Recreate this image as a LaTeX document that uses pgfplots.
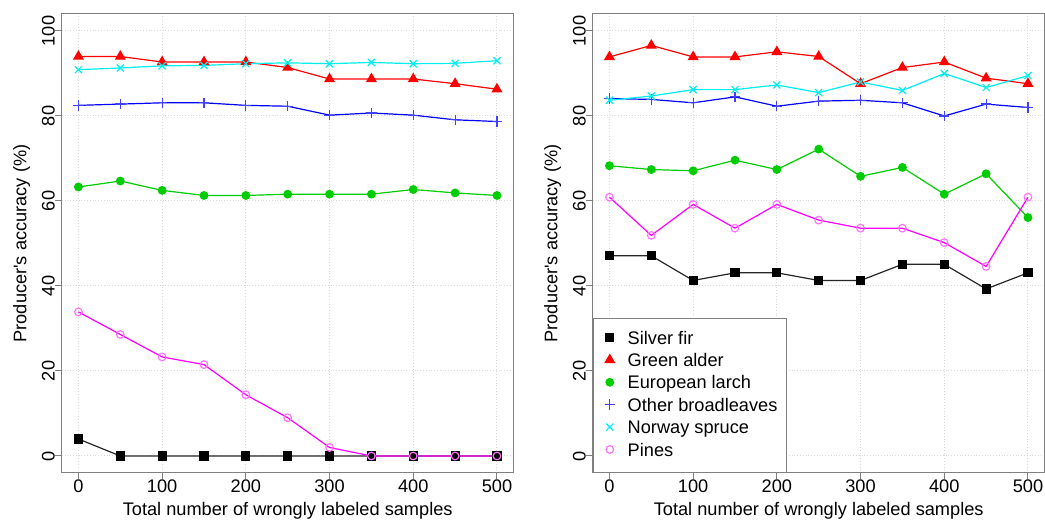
\documentclass[border=0pt]{standalone}
\usepackage{fontspec}
\setmainfont{Liberation Sans}
\usepackage{pgfplots}
\pgfplotsset{compat=1.18}
\definecolor{rgreen}{RGB}{0,205,0}
\definecolor{rcyan}{RGB}{0,238,238}
\definecolor{rmagenta}{RGB}{255,0,255}
\definecolor{rblue}{RGB}{0,0,255}
\definecolor{rred}{RGB}{255,0,0}
\definecolor{axgray}{RGB}{128,128,128}

\pgfplotstableread{
x sf ga el ob ns pi
0 4.0 94.0 63.3 82.5 90.9 33.9
50 0 94.0 64.7 82.8 91.3 28.6
100 0 92.7 62.5 83.1 91.8 23.3
150 0 92.7 61.3 83.1 91.9 21.5
200 0 92.7 61.3 82.5 92.3 14.4
250 0 91.4 61.6 82.3 92.5 9.0
300 0 88.7 61.6 80.2 92.3 2.0
350 0 88.7 61.6 80.7 92.6 0
400 0 88.7 62.7 80.2 92.3 0
450 0 87.6 61.9 79.1 92.4 0
500 0 86.3 61.3 78.7 93.0 0
}\lefttab

\pgfplotstableread{
x sf ga el ob ns pi
0 47.1 93.9 68.3 84.1 83.7 60.9
50 47.1 96.6 67.4 83.9 84.7 51.9
100 41.3 93.9 67.1 83.1 86.2 59.2
150 43.1 93.9 69.6 84.5 86.2 53.6
200 43.1 95.1 67.4 82.3 87.3 59.2
250 41.3 94.0 72.2 83.5 85.5 55.5
300 41.3 87.6 65.8 83.7 88.0 53.6
350 45.1 91.4 67.9 83.1 86.0 53.6
400 45.1 92.7 61.6 80.0 90.0 50.2
450 39.3 88.9 66.4 82.8 86.7 44.6
500 43.1 87.6 56.1 82.0 89.5 60.9
}\righttab

\pgfplotsset{
  myaxis/.style={
    scale only axis, width=226pt, height=229.5pt,
    xmin=-20, xmax=520, ymin=-4, ymax=104,
    axis line style={axgray, line width=0.5pt},
    tick style={axgray, line width=0.5pt},
    tick align=outside, major tick length=3.2pt,
    xtick pos=left, ytick pos=left,
    xtick={0,100,...,500}, ytick={0,20,...,100},
    grid=major, grid style={densely dotted, black!15, line width=0.5pt},
    font=\fontsize{9.1}{11}\selectfont,
    ticklabel style={font=\fontsize{9.1}{11}\selectfont, text=black},
    /pgf/number format/assume math mode=true,
    yticklabel style={rotate=90, anchor=south, inner sep=0pt},
    xticklabel style={anchor=north, inner sep=0pt},
    every axis x label/.style={at={([yshift=-14.5pt]axis description cs:0.5,0)}, anchor=north, inner sep=0pt},
    every axis y label/.style={at={([xshift=-24.5pt]axis description cs:0,0.5)}, rotate=90, anchor=north, inner sep=0pt},
    xlabel={Total number of wrongly labeled samples},
    ylabel={Producer\textquotesingle s accuracy (\%)},
    legend image code/.code={\path (-4.5pt,0pt) (7.65pt,0pt); \draw[##1, only marks] plot coordinates {(0pt,0.9pt)};},
  },
  sf/.style={black!85, line width=0.6pt, mark=square*, mark size=2pt, mark options={solid, fill=black, draw=black}},
  ga/.style={rred, line width=0.6pt, mark=triangle*, mark size=2.6pt, mark options={solid, fill=rred, draw=rred}},
  el/.style={rgreen, line width=0.6pt, mark=*, mark size=1.9pt, mark options={solid, fill=rgreen, draw=rgreen}},
  ob/.style={rblue, line width=0.6pt, mark=+, mark size=2.6pt, mark options={solid, draw=rblue!75}},
  ns/.style={rcyan, line width=0.6pt, mark=x, mark size=2.5pt, mark options={solid, draw=rcyan}},
  pi/.style={rmagenta, line width=0.6pt, mark=o, mark size=1.9pt, mark options={solid, draw=rmagenta!55}},
}

\begin{document}
\begin{tikzpicture}
\begin{axis}[myaxis, at={(30.85pt,25pt)}, anchor=south west]
\addplot[sf] table[x=x, y=sf] {\lefttab};
\addplot[ga] table[x=x, y=ga] {\lefttab};
\addplot[el] table[x=x, y=el] {\lefttab};
\addplot[ob] table[x=x, y=ob] {\lefttab};
\addplot[ns] table[x=x, y=ns] {\lefttab};
\addplot[pi] table[x=x, y=pi] {\lefttab};
\end{axis}
\begin{axis}[myaxis, at={(296.35pt,25pt)}, anchor=south west,
  legend cell align=left,
  legend style={at={(rel axis cs:0,0)}, anchor=south west, draw=axgray, line width=0.5pt, fill=white,
    inner xsep=3.5pt, inner ysep=5pt, row sep=0pt, column sep=0pt,
    font=\fontsize{9.1}{11}\selectfont,
    nodes={inner xsep=1pt, inner ysep=1.2pt, text height=6.8pt, text depth=2pt}}]
\addplot[sf] table[x=x, y=sf] {\righttab};
\addplot[ga] table[x=x, y=ga] {\righttab};
\addplot[el] table[x=x, y=el] {\righttab};
\addplot[ob] table[x=x, y=ob] {\righttab};
\addplot[ns] table[x=x, y=ns] {\righttab};
\addplot[pi] table[x=x, y=pi] {\righttab};
\legend{Silver fir, Green alder, European larch, Other broadleaves, Norway spruce, Pines}
\end{axis}
\pgfresetboundingbox
\path[use as bounding box] (0pt,0pt) rectangle (522.5pt,261.5pt);
\end{tikzpicture}
\end{document}
